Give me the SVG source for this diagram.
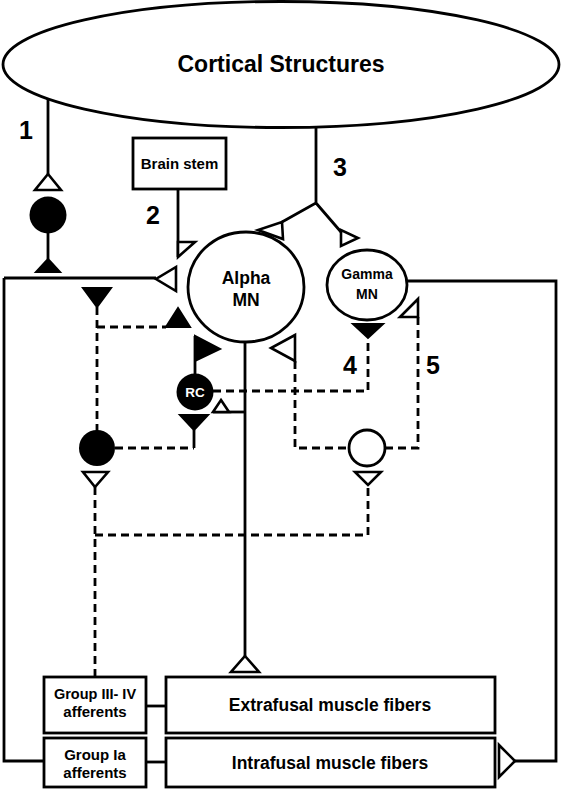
<svg xmlns="http://www.w3.org/2000/svg" width="562" height="790" viewBox="0 0 562 790">
<style>
.ln{fill:none;stroke:#000;stroke-width:2.8}
.dl{fill:none;stroke:#000;stroke-width:2.8;stroke-dasharray:8,5}
.ot{fill:#fff;stroke:#000;stroke-width:2.6;stroke-linejoin:miter}
.ft{fill:#000;stroke:#000;stroke-width:2}
.bx{fill:#fff;stroke:#000;stroke-width:2.8}
text{font-family:"Liberation Sans",Arial,sans-serif;font-weight:bold;fill:#000;text-anchor:middle}
.num{font-size:25px}
</style>
<rect width="562" height="790" fill="#fff"/>
<g id="connectors">
  <path class="ln" d="M48,99 V174"/>
  <path class="ln" d="M48,233 V259"/>
  <path class="ln" d="M4,278 H156"/>
  <path class="ln" d="M4,278 V761 H44"/>
  <path class="ln" d="M178,189 V257"/>
  <path class="ln" d="M316,127 V203 L282,222 M316,203 L341,232"/>
  <path class="ln" d="M245,342 V656"/>
  <path class="ln" d="M213,412 H245"/>
  <path class="ln" d="M407,281 H556 V761 H515"/>
  <path class="ln" d="M146,706 H166"/>
  <path class="ln" d="M146,762 H166"/>
  <path class="ln" d="M195,336 V374"/>
  <path class="ln" d="M194,430 V448"/>
  <path class="dl" d="M97,307 V431"/>
  <path class="dl" d="M97,327 H166"/>
  <path class="dl" d="M115,448 H194"/>
  <path class="dl" d="M213,391 H368 V338"/>
  <path class="dl" d="M295,361 V448 H349"/>
  <path class="dl" d="M385,448 H418 V317"/>
  <path class="dl" d="M95,487 V677"/>
  <path class="dl" d="M95,535 H368 V485"/>
</g>
<g id="cortical">
  <ellipse class="bx" cx="281" cy="64.5" rx="278" ry="63"/>
  <text x="281" y="72" font-size="23">Cortical Structures</text>
</g>
<g id="syn1">
  <polygon class="ot" points="48,174 61,190 35,190"/>
  <circle cx="48" cy="215" r="18.5" fill="#000"/>
  <polygon class="ft" points="48,259 60,272 36,272"/>
  <text class="num" x="26" y="139">1</text>
</g>
<g id="brainstem">
  <rect class="bx" x="133" y="138" width="93" height="51"/>
  <text x="179.5" y="169" font-size="15">Brain stem</text>
  <polygon class="ot" points="178,242 195,242 178,257"/>
  <text class="num" x="153" y="224">2</text>
</g>
<g id="syn3">
  <polygon class="ot" points="282,222 283,239 258,230"/>
  <polygon class="ot" points="341,230 341,246 358,238"/>
  <text class="num" x="340" y="176">3</text>
</g>
<g id="alphaMN">
  <ellipse class="bx" cx="246" cy="287" rx="58" ry="55"/>
  <text x="246" y="284" font-size="17.5">Alpha</text>
  <text x="246" y="306" font-size="17.5">MN</text>
  <polygon class="ot" points="176,267 176,291 156,279"/>
  <polygon class="ot" points="295,335 295,361 271,348"/>
</g>
<g id="gammaMN">
  <ellipse class="bx" cx="367" cy="285" rx="40" ry="35"/>
  <text x="367" y="279" font-size="14">Gamma</text>
  <text x="367" y="299" font-size="14">MN</text>
  <polygon class="ft" points="353,324 383,324 368,338"/>
  <polygon class="ot" points="418,299 418,317 400,317"/>
  <text class="num" x="350" y="374">4</text>
  <text class="num" x="433" y="374">5</text>
</g>
<g id="inhib-left">
  <polygon class="ft" points="83,288 111,288 97,307"/>
  <polygon class="ft" points="178,308 190,327 166,327"/>
  <circle cx="97" cy="448" r="18" fill="#000"/>
  <polygon class="ot" points="83,472 108,472 95,487"/>
</g>
<g id="RC">
  <polygon class="ft" points="195,336 220,349 195,361"/>
  <circle cx="195" cy="392" r="18.5" fill="#000"/>
  <text x="195" y="397" font-size="13.5" style="fill:#fff">RC</text>
  <polygon class="ot" points="221,400 229,412 213,412"/>
  <polygon class="ft" points="180,415 208,415 194,430"/>
</g>
<g id="inter-right">
  <circle cx="367" cy="448" r="18" fill="#fff" stroke="#000" stroke-width="2.8"/>
  <polygon class="ot" points="355,472 381,472 368,485"/>
</g>
<g id="groupIII">
  <rect class="bx" x="44" y="677" width="102" height="56"/>
  <text x="95" y="699" font-size="14.5">Group III- IV</text>
  <text x="95" y="717" font-size="15">afferents</text>
</g>
<g id="extrafusal">
  <polygon class="ot" points="245,656 259,672 231,672"/>
  <rect class="bx" x="166" y="677" width="329" height="56"/>
  <text x="330" y="711" font-size="17.5">Extrafusal muscle fibers</text>
</g>
<g id="groupIa">
  <rect class="bx" x="44" y="738" width="102" height="49"/>
  <text x="95" y="760" font-size="15">Group Ia</text>
  <text x="95" y="778" font-size="15">afferents</text>
</g>
<g id="intrafusal">
  <rect class="bx" x="166" y="738" width="329" height="49"/>
  <text x="330" y="769" font-size="17.5">Intrafusal muscle fibers</text>
  <polygon class="ot" points="499,745 499,777 515,761"/>
</g>
</svg>
